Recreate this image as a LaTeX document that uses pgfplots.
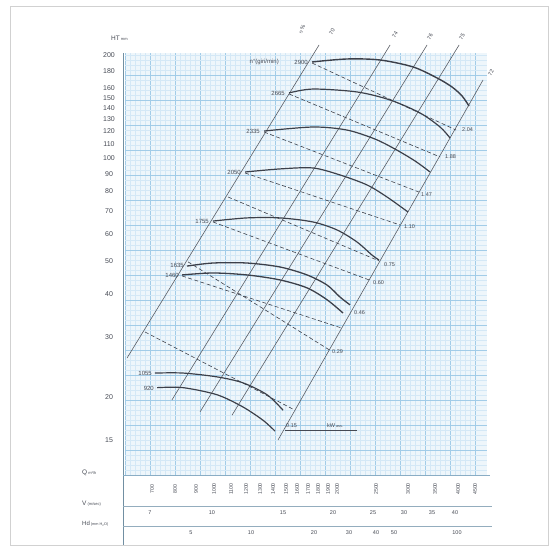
\documentclass[border=0pt]{standalone}
\usepackage{pgfplots}
\pgfplotsset{compat=1.18}
\usepackage{fontspec}
\setmainfont{Liberation Sans}
\definecolor{gmaj}{RGB}{162,204,232}
\definecolor{gmin}{RGB}{212,232,246}
\definecolor{gfill}{RGB}{238,246,251}
\definecolor{ink}{RGB}{60,64,74}
\definecolor{lab}{RGB}{70,74,84}
\newcommand{\fs}[1]{\fontsize{#1}{#1}\selectfont}
\begin{document}
\begin{tikzpicture}
\path[use as bounding box] (0pt,0pt) rectangle (558pt,551pt);
\draw[black!18,line width=0.6pt] (10pt,6pt) rectangle (548pt,545pt);
% ---------- background grid ----------
\begin{axis}[at={(125pt,76pt)},anchor=south west,scale only axis,width=362pt,height=422pt,
  xmin=0,xmax=72.4,ymin=0,ymax=84.4,xtick distance=5,ytick distance=5,minor tick num=4,
  grid=both,major grid style={gmaj,line width=0.45pt},minor grid style={gmin,line width=0.3pt},
  xticklabels={},yticklabels={},major tick length=0,minor tick length=0,
  axis line style={draw=none},axis background/.style={fill=gfill}]
\addplot[draw=none] coordinates {(0,0)};
\end{axis}
% ---------- main chart ----------
\begin{axis}[at={(125pt,76pt)},anchor=south west,scale only axis,width=362pt,height=422pt,
  xmode=log,ymode=log,xmin=607,xmax=4777,ymin=11.83,ymax=202.8,
  axis line style={draw=none},xtick=\empty,major tick length=0,clip=false,
  ytick={15,20,30,40,50,60,70,80,90,100,110,120,130,140,150,160,180,200},
  yticklabels={15,20,30,40,50,60,70,80,90,100,110,120,130,140,150,160,180,200},
  yticklabel style={anchor=center,xshift=-16pt,font=\fs{7},text=lab}]
% straight lines (H ~ Q^2)
\addplot[ink!85,line width=0.6pt] coordinates {(614,26.0) (1834,214.0)};
\addplot[ink!85,line width=0.6pt] coordinates {(793,19.6) (2749,214.0)};
\addplot[ink!85,line width=0.6pt] coordinates {(931,18.1) (3394,214.0)};
\addplot[ink!85,line width=0.6pt] coordinates {(1117,17.7) (4074,214.0)};
\addplot[ink!85,line width=0.6pt] coordinates {(1452,14.98) (4670,169.1)};
% dashed lines
\addplot[ink,line width=0.6pt,dash pattern=on 4pt off 2.5pt] coordinates {(1762,189.6) (4004,120.7)};
\addplot[ink,line width=0.6pt,dash pattern=on 4pt off 2.5pt] coordinates {(1546,153.9) (3656,100.7)};
\addplot[ink,line width=0.6pt,dash pattern=on 4pt off 2.5pt] coordinates {(1341,119.1) (3243,79.5)};
\addplot[ink,line width=0.6pt,dash pattern=on 4pt off 2.5pt] coordinates {(1203,90.4) (2910,63.7)};
\addplot[ink,line width=0.6pt,dash pattern=on 4pt off 2.5pt] coordinates {(1092,76.9) (2582,50.0)};
\addplot[ink,line width=0.6pt,dash pattern=on 4pt off 2.5pt] coordinates {(1002,65.0) (2439,44.0)};
\addplot[ink,line width=0.6pt,dash pattern=on 4pt off 2.5pt] coordinates {(869,49.7) (1942,27.5)};
\addplot[ink,line width=0.6pt,dash pattern=on 4pt off 2.5pt] coordinates {(840,45.2) (2091,31.8)};
\addplot[ink,line width=0.6pt,dash pattern=on 4pt off 2.5pt] coordinates {(680,31.0) (1600,18.3)};
% fan curves
\addplot[ink,line width=1.4pt,smooth] coordinates {(1762,190.9) (2151,194.8) (2596,193.5) (3134,184.6) (3594,171.4) (3914,161.3) (4144,151.8) (4312,141.9)};
\addplot[ink,line width=1.2pt,smooth] coordinates {(1546,155.0) (1772,159.1) (2277,156.0) (2749,147.8) (3262,135.4) (3656,123.2) (3870,114.4)};
\addplot[ink,line width=1.2pt,smooth] coordinates {(1341,119.9) (1772,123.2) (2151,120.7) (2523,113.6) (2828,106.2) (3170,98.0) (3453,91.0)};
\addplot[ink,line width=1.2pt,smooth] coordinates {(1203,91.0) (1468,92.9) (1772,93.5) (2067,89.2) (2411,83.4) (2702,76.9) (3046,69.5)};
\addplot[ink,line width=1.2pt,smooth] coordinates {(1002,65.4) (1216,66.8) (1468,66.8) (1772,65.0) (2032,61.6) (2277,56.8) (2481,52.0) (2582,50.3)};
\addplot[ink,line width=1.3pt,smooth] coordinates {(864,48.3) (1002,49.3) (1216,49.3) (1468,48.0) (1713,45.5) (1920,42.5) (2067,39.2) (2188,37.2)};
\addplot[ink,line width=1.3pt,smooth] coordinates {(840,45.5) (1002,46.1) (1216,45.5) (1468,44.0) (1713,41.7) (1920,38.5) (2103,35.2)};
\addplot[ink,line width=1.2pt,smooth] coordinates {(720,23.5) (845,23.5) (1026,22.9) (1189,22.0) (1364,20.3) (1494,18.3)};
\addplot[ink,line width=1.2pt,smooth] coordinates {(729,21.3) (845,21.3) (1026,20.3) (1189,18.7) (1333,17.1) (1427,15.9)};
\end{axis}
% ---------- frame lines of the scales ----------
\draw[gmaj!70!black,line width=0.5pt] (123pt,6pt) -- (123pt,498pt);
\draw[gmaj!85!black,line width=0.7pt] (123pt,76pt) -- (490pt,76pt);
\draw[gmaj!60!gray,line width=0.4pt] (123pt,45pt) -- (492pt,45pt);
\draw[gmaj!60!gray,line width=0.4pt] (123pt,25pt) -- (492pt,25pt);
% ---------- text ----------
\begin{scope}[every node/.style={anchor=east,font=\fs{6},text=lab,inner sep=1pt}]
\node at (309pt,489pt) {2900};
\node at (286pt,458pt) {2665};
\node at (261pt,420pt) {2335};
\node at (242pt,379pt) {2050};
\node at (210pt,330pt) {1755};
\node at (185pt,286pt) {1635};
\node at (180pt,276pt) {1460};
\node at (153pt,178pt) {1055};
\node at (155pt,163pt) {920};
\node at (280pt,489pt) {n°(giri/min)};
\end{scope}
\begin{scope}[every node/.style={anchor=west,font=\fs{5.5},text=lab,inner sep=0pt}]
\node at (462pt,421pt) {2.04};
\node at (445pt,394pt) {1.88};
\node at (421pt,356pt) {1.47};
\node at (404pt,324pt) {1.10};
\node at (384pt,286pt) {0.75};
\node at (373pt,268pt) {0.60};
\node at (354pt,238pt) {0.46};
\node at (332pt,199pt) {0.29};
\node at (286pt,125pt) {0.15};
\node at (327pt,125pt) {kW\,{\fs{3.8}ass.}};
\end{scope}
\draw[lab,line width=0.4pt] (285pt,121pt) -- (357pt,121pt);
\begin{scope}[every node/.style={rotate=60,font=\fs{5.5},text=lab}]
\node at (302pt,521pt) {$\eta$\,\%};
\node at (332pt,519pt) {70};
\node at (395pt,516pt) {74};
\node at (430pt,514pt) {76};
\node at (462pt,514pt) {75};
\node at (491pt,478pt) {72};
\end{scope}
\foreach \q/\x in {700/152,800/175,900/196,1000/214,1100/231,1200/246,1300/260,1400/273,1500/286,1600/297,1700/308,1800/318,1900/328,2000/337,2500/376,3000/408,3500/435,4000/458,4500/475}
  {\node[rotate=90,font=\fs{5.2},text=lab] at (\x pt,62pt) {\q};}
\foreach \v/\x in {7/150,10/212,15/283,20/333,25/373,30/404,35/432,40/455}
  {\node[font=\fs{5.5},text=lab] at (\x pt,38pt) {\v};}
\foreach \h/\x in {5/191,10/251,20/314,30/349,40/376,50/394,100/457}
  {\node[font=\fs{5.5},text=lab] at (\x pt,18pt) {\h};}
\begin{scope}[every node/.style={anchor=west,text=lab,inner sep=0pt}]
\node at (82pt,78pt) {\fs{6.5}Q\,{\fs{4}m³/h}};
\node at (82pt,47pt) {\fs{6.5}V\,{\fs{4}(m/sec)}};
\node at (82pt,27pt) {\fs{6}Hd\,{\fs{3.8}(mm H\textsubscript{2}O)}};
\node at (111pt,513pt) {\fs{6.5}HT\,{\fs{4}mm}};
\end{scope}
\end{tikzpicture}
\end{document}
